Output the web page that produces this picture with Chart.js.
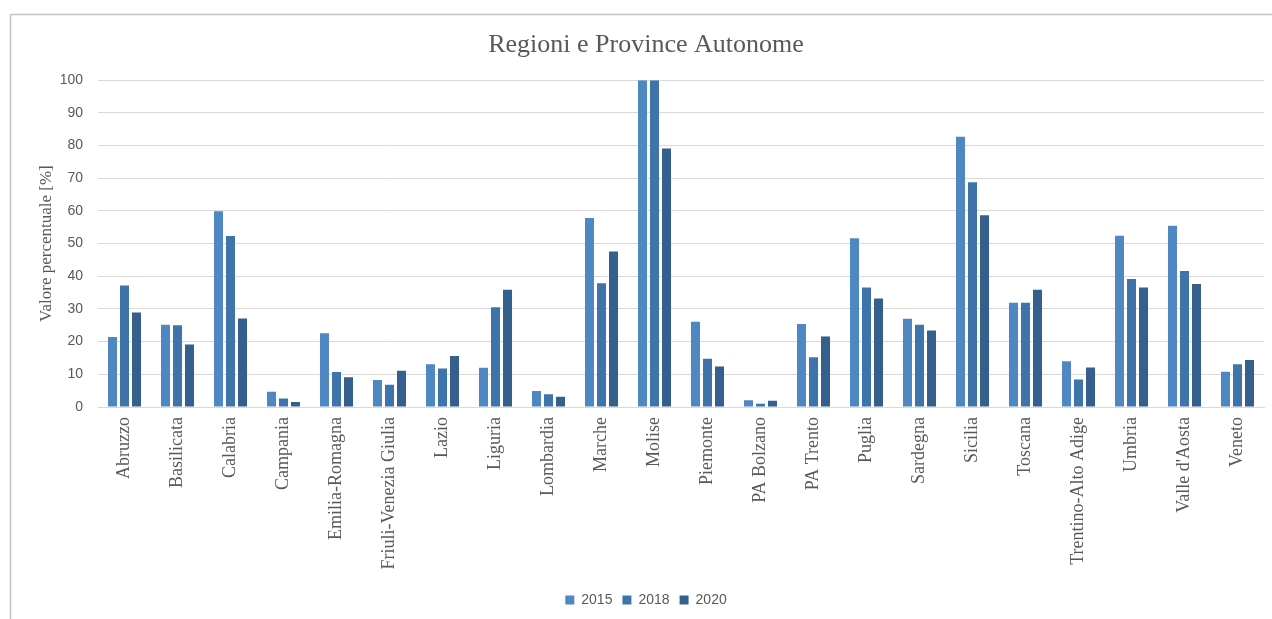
<!DOCTYPE html>
<html lang="it">
<head>
<meta charset="utf-8">
<title>Regioni e Province Autonome</title>
<script src="https://cdn.jsdelivr.net/npm/chart.js@4/dist/chart.umd.min.js"></script>
<style>
  html, body { margin: 0; padding: 0; background: #ffffff; }
  #wrap { position: relative; width: 1272px; height: 619px; }
  canvas { display: block; }
</style>
</head>
<body>
<div id="wrap"><canvas id="chart" width="1272" height="619"></canvas></div>
<script>
// Categorie (regioni e province autonome)
const regioni = [
  "Abruzzo", "Basilicata", "Calabria", "Campania", "Emilia-Romagna",
  "Friuli-Venezia Giulia", "Lazio", "Liguria", "Lombardia", "Marche",
  "Molise", "Piemonte", "PA Bolzano", "PA Trento", "Puglia", "Sardegna",
  "Sicilia", "Toscana", "Trentino-Alto Adige", "Umbria", "Valle d'Aosta", "Veneto"
];

// Valori percentuali per anno
const valori2015 = [21.4, 25.2, 59.9, 4.7, 22.6, 8.3, 13.1, 12.0, 4.9, 57.8, 100, 26.1, 2.1, 25.4, 51.6, 27.0, 82.7, 31.9, 14.0, 52.4, 55.5, 10.8];
const valori2018 = [37.2, 25.0, 52.3, 2.6, 10.7, 6.8, 11.8, 30.5, 3.9, 37.9, 100, 14.8, 1.0, 15.2, 36.6, 25.2, 68.8, 31.9, 8.4, 39.2, 41.6, 13.1];
const valori2020 = [28.9, 19.1, 27.1, 1.5, 9.1, 11.1, 15.6, 35.9, 3.1, 47.6, 79.1, 12.4, 1.9, 21.6, 33.2, 23.4, 58.7, 35.9, 12.1, 36.6, 37.6, 14.4];

// Etichette dell'asse verticale
const tickValori = [0, 10, 20, 30, 40, 50, 60, 70, 80, 90, 100];

const anni = ["2015", "2018", "2020"];
const colori = ["#4f87c2", "#3f74aa", "#355f8d"];

const grigioTesto = "#595959";
const serif = "'Liberation Serif', 'DejaVu Serif', serif";
const sans = "'Liberation Sans', 'DejaVu Sans', sans-serif";

// Cornice grigia del riquadro del grafico
const cornice = {
  id: "cornice",
  beforeDraw(chart) {
    const ctx = chart.ctx;
    ctx.save();
    ctx.strokeStyle = "#c4c4c4";
    ctx.lineWidth = 1.5;
    ctx.beginPath();
    ctx.moveTo(10.5, chart.height);
    ctx.lineTo(10.5, 14.5);
    ctx.lineTo(chart.width, 14.5);
    ctx.stroke();
    ctx.restore();
  }
};

new Chart(document.getElementById("chart"), {
  type: "bar",
  data: {
    labels: regioni,
    datasets: [
      { label: anni[0], data: valori2015, backgroundColor: colori[0] },
      { label: anni[1], data: valori2018, backgroundColor: colori[1] },
      { label: anni[2], data: valori2020, backgroundColor: colori[2] }
    ]
  },
  options: {
    responsive: false,
    animation: false,
    layout: { padding: { left: 28, right: 8, top: 14, bottom: 2 } },
    datasets: {
      bar: { categoryPercentage: 0.68, barPercentage: 0.75 }
    },
    plugins: {
      title: {
        display: true,
        text: "Regioni e Province Autonome",
        color: grigioTesto,
        font: { family: serif, size: 26, weight: "normal" },
        padding: { top: 16, bottom: 19 }
      },
      legend: {
        position: "bottom",
        labels: {
          color: grigioTesto,
          font: { family: sans, size: 14 },
          boxWidth: 9,
          boxHeight: 9,
          padding: 10
        }
      },
      tooltip: { enabled: false }
    },
    scales: {
      x: {
        grid: { display: false, drawTicks: false },
        border: { display: true, color: "#d9d9d9", width: 1 },
        ticks: {
          color: grigioTesto,
          font: { family: serif, size: 18 },
          minRotation: 90,
          maxRotation: 90,
          autoSkip: false,
          padding: 10
        },
        afterFit(scale) { scale.height = 176; }
      },
      y: {
        min: 0,
        max: 100,
        afterBuildTicks(scale) { scale.ticks = tickValori.map(v => ({ value: v })); },
        grid: { color: "#d9d9d9", lineWidth: 1, drawTicks: false },
        border: { display: false },
        ticks: {
          color: grigioTesto,
          font: { family: sans, size: 14 },
          padding: 15
        },
        title: {
          display: true,
          text: "Valore percentuale [%]",
          color: grigioTesto,
          font: { family: serif, size: 17 },
          padding: { top: 8, bottom: 4 }
        },
        afterFit(scale) { scale.width = 70; }
      }
    }
  },
  plugins: [cornice]
});
</script>
</body>
</html>
